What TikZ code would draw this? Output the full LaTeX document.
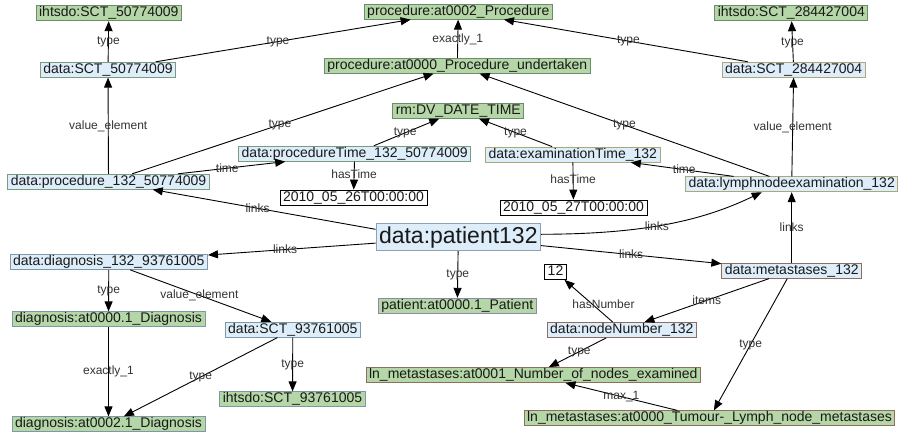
\documentclass[tikz,border=0pt]{standalone}
\usepackage{fontspec}
\setmainfont{Liberation Sans}
\usetikzlibrary{arrows.meta}
\definecolor{gfill}{HTML}{B5D6A6}
\definecolor{bfill}{HTML}{DDEEFA}
\definecolor{bG}{HTML}{7C9A7E}
\definecolor{bG2}{HTML}{6C8C6C}
\definecolor{bB}{HTML}{7F98A8}
\definecolor{bP}{HTML}{8C88A8}
\definecolor{bM}{HTML}{8E6E60}
\definecolor{bY}{HTML}{A8A878}
\definecolor{bPat}{HTML}{8FA0B4}
\begin{document}
\begin{tikzpicture}[x=1pt,y=-1pt,
 box/.style={draw=bG, line width=0.8pt, inner xsep=3pt, inner ysep=0.9pt, text height=10.2pt, text depth=3pt, font=\fontsize{14}{14}\selectfont, text=black!90},
 gbox/.style={box, fill=gfill},
 bbox/.style={box, fill=bfill},
 wbox/.style={box, fill=white, draw=black},
 bigbox/.style={bbox, draw=bPat, inner ysep=3pt, text height=16.5pt, text depth=4.5pt, font=\fontsize{23}{23}\selectfont},
 edge/.style={-{Triangle[length=10pt,width=8pt]}, line width=0.9pt},
 lbl/.style={font=\fontsize{12}{12}\selectfont, text=black!80, inner sep=0pt}
]
\useasboundingbox[fill=white] (0,0) rectangle (905,434);

% nodes
\node[gbox, draw=bG2] (ihA) at (108.8,13.3) {ihtsdo:SCT\_50774009};
\node[bbox] (sctA) at (108,69.7) {data:SCT\_50774009};
\node[bbox] (proc) at (108.5,181.7) {data:procedure\_132\_50774009};
\node[gbox, draw=bG2] (p2) at (458.3,11.7) {procedure:at0002\_Procedure};
\node[gbox, draw=bG2] (p0) at (457.3,65.7) {procedure:at0000\_Procedure\_undertaken};
\node[gbox, draw=bG2] (dt) at (458.3,110.8) {rm:DV\_DATE\_TIME};
\node[bbox] (pt) at (354.7,153.7) {data:procedureTime\_132\_50774009};
\node[bbox, draw=bY] (et) at (572.8,154.5) {data:examinationTime\_132};
\node[wbox] (d26) at (353.5,197.5) {2010\_05\_26T00:00:00};
\node[wbox] (d27) at (573.5,207.5) {2010\_05\_27T00:00:00};
\node[gbox, draw=bG2] (ihB) at (791.3,13.3) {ihtsdo:SCT\_284427004};
\node[bbox, draw=bY] (sctB) at (793.7,69.7) {data:SCT\_284427004};
\node[bbox, draw=bY] (lym) at (791.7,184.3) {data:lymphnodeexamination\_132};
\node[bigbox] (pat) at (458.3,237.3) {data:patient132};
\node[gbox, draw=bP] (pat0) at (457.3,305.7) {patient:at0000.1\_Patient};
\node[wbox] (n12) at (555.5,272) {12};
\node[bbox, draw=bM] (met) at (791.7,270.7) {data:metastases\_132};
\node[bbox, draw=bM] (nn) at (621.8,330) {data:nodeNumber\_132};
\node[gbox, draw=bM] (lnA) at (533.3,375) {ln\_metastases:at0001\_Number\_of\_nodes\_examined};
\node[gbox, draw=bM] (lnB) at (709.5,418.3) {ln\_metastases:at0000\_Tumour-\_Lymph\_node\_metastases};
\node[bbox, draw=bB] (dg) at (108.8,262) {data:diagnosis\_132\_93761005};
\node[gbox, draw=bB] (dg0) at (108.5,319.3) {diagnosis:at0000.1\_Diagnosis};
\node[bbox, draw=bB] (sctC) at (292.8,329.7) {data:SCT\_93761005};
\node[gbox, draw=bB] (ihC) at (292.5,399.3) {ihtsdo:SCT\_93761005};
\node[gbox, draw=bB] (dg2) at (108.5,424.3) {diagnosis:at0002.1\_Diagnosis};

% edges
\draw[edge] (sctA) -- node[lbl]{type} (ihA);
\draw[edge] (sctA) -- node[lbl, pos=0.48]{type} (p2);
\draw[edge] (p0) -- node[lbl, pos=0.47]{exactly\_1} (p2);
\draw[edge] (sctB) -- node[lbl, pos=0.49]{type} (p2);
\draw[edge] (sctB) -- node[lbl, pos=0.47]{type} (ihB);
\draw[edge] (proc) -- node[lbl, pos=0.49]{value\_element} (sctA);
\draw[edge] (proc) -- node[lbl, pos=0.49]{type} (p0);
\draw[edge] (lym) -- node[lbl]{type} (p0);
\draw[edge] (lym) -- node[lbl]{value\_element} (sctB);
\draw[edge] (proc) -- node[lbl, pos=0.46]{time} (pt);
\draw[edge] (lym) -- node[lbl, pos=0.48]{time} (et);
\draw[edge] (pt) -- node[lbl, pos=0.48]{type} (dt);
\draw[edge] (et) -- node[lbl]{type} (dt);
\draw[edge] (pt) -- node[lbl, pos=0.46]{hasTime} (d26);
\draw[edge] (et) -- node[lbl, pos=0.46]{hasTime} (d27);
\draw[edge] ([yshift=8pt]pat.west) -- node[lbl, pos=0.53]{links} (proc);
\draw[edge] (pat) -- node[lbl, pos=0.54]{links} (dg);
\draw[edge] (pat) -- node[lbl]{type} (pat0);
\draw[edge] ([yshift=3pt]pat.east) .. controls (640,234) and (700,222) .. node[lbl, pos=0.46]{links} ([xshift=-30pt]lym.south);
\draw[edge] (pat) -- node[lbl]{links} (met);
\draw[edge] (met) -- node[lbl]{links} (lym);
\draw[edge] (met) -- node[lbl]{items} (nn);
\draw[edge] (met) -- node[lbl]{type} (lnB);
\draw[edge] (nn) -- node[lbl, pos=0.42, xshift=11pt]{hasNumber} (n12);
\draw[edge] (nn) -- node[lbl, pos=0.47]{type} (lnA);
\draw[edge] (lnB) -- node[lbl]{max\_1} (lnA);
\draw[edge] (dg) -- node[lbl]{type} (dg0);
\draw[edge] (dg) -- node[lbl, pos=0.49]{value\_element} (sctC);
\draw[edge] (dg0) -- node[lbl]{exactly\_1} (dg2);
\draw[edge] (sctC) -- node[lbl]{type} (dg2);
\draw[edge] (sctC) -- node[lbl]{type} (ihC);
\end{tikzpicture}
\end{document}
